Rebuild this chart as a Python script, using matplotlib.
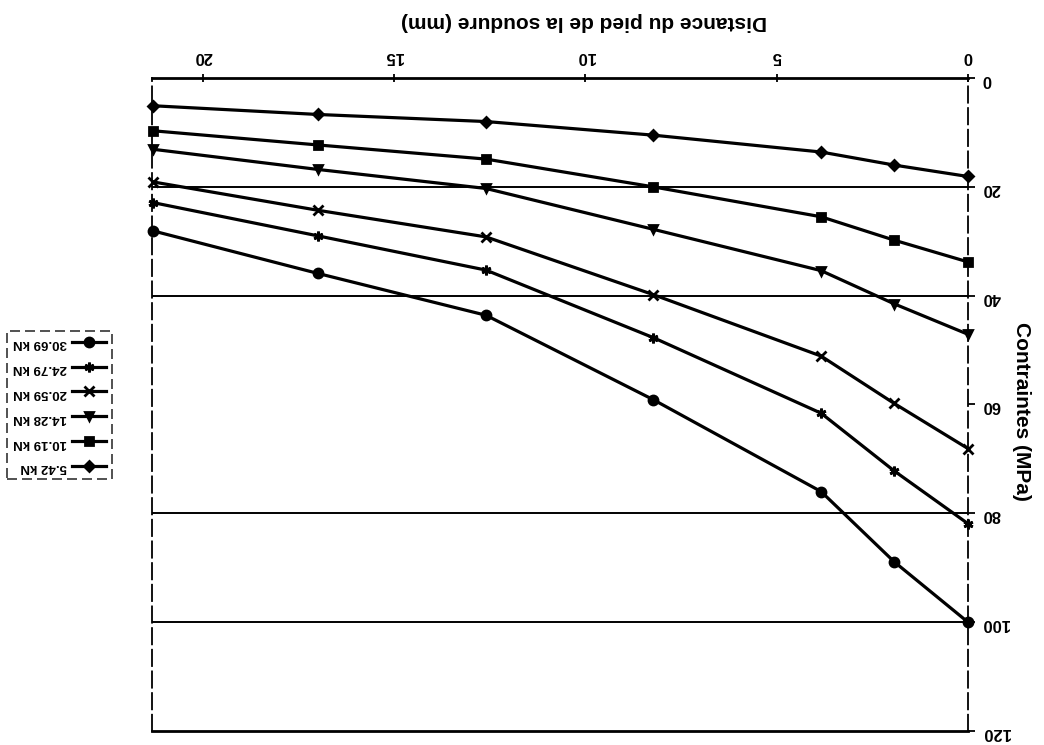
import matplotlib
matplotlib.use("Agg")
import matplotlib.pyplot as plt

# Distance from the weld toe (mm) at which the stresses were measured
distance_mm = [0, 1.93, 3.84, 8.23, 12.6, 17.0, 21.3]

# Applied loads
load_labels = ["5.42 kN", "10.19 kN", "14.28 kN", "20.59 kN", "24.79 kN", "30.69 kN"]

# Stress (MPa) for each load, same order as distance_mm
stress_5_42 = [18.1, 16.0, 13.6, 10.5, 8.0, 6.7, 5.1]
stress_10_19 = [33.8, 29.8, 25.5, 20.0, 14.9, 12.3, 9.7]
stress_14_28 = [47.1, 41.5, 35.4, 27.8, 20.3, 16.8, 13.1]
stress_20_59 = [68.1, 59.8, 51.1, 39.8, 29.2, 24.3, 19.1]
stress_24_79 = [81.9, 72.2, 61.6, 47.7, 35.3, 29.0, 22.9]
stress_30_69 = [100.0, 88.9, 76.0, 59.1, 43.6, 35.9, 28.1]

x_ticks = [0, 5, 10, 15, 20]
y_ticks = [0, 20, 40, 60, 80, 100, 120]
grid_levels = [20, 40, 80, 100]

series = [stress_5_42, stress_10_19, stress_14_28,
          stress_20_59, stress_24_79, stress_30_69]
markers = ["D", "s", "v", "x", (6, 2, 0), "o"]
marker_sizes = [5.5, 5.5, 6, 6.5, 7, 6.5]

plt.rcParams["font.family"] = ["Liberation Sans", "DejaVu Sans"]
plt.rcParams["font.weight"] = "bold"

fig = plt.figure(figsize=(10.44, 7.45), dpi=100)
ax = fig.add_axes([0.1456, 0.0188, 0.7816, 0.8765])

# The whole sheet is laid out turned half a turn: both axes run backwards
ax.set_xlim(21.33, 0)
ax.set_ylim(120, 0)

for level in grid_levels:
    ax.axhline(level, color="black", lw=1.4, zorder=1)

handles = []
for values, label, mk, ms in zip(series, load_labels, markers, marker_sizes):
    (h,) = ax.plot(distance_mm, values, color="black", lw=2.3, marker=mk,
                   markersize=ms, markeredgewidth=2.0, markerfacecolor="black",
                   markeredgecolor="black", label=label, zorder=3, clip_on=False)
    handles.append(h)

ax.set_xticks(x_ticks)
ax.set_yticks(y_ticks)
ax.xaxis.tick_top()
ax.yaxis.tick_right()
ax.tick_params(axis="x", direction="inout", length=6, width=1.3, pad=7,
               labelsize=12, labelrotation=180)
ax.tick_params(axis="y", direction="out", length=5, width=1.3, pad=5,
               labelsize=12, labelrotation=180)

for side in ("top", "bottom"):
    ax.spines[side].set_linewidth(2.0)
for side in ("left", "right"):
    ax.spines[side].set_linewidth(1.3)
    ax.spines[side].set_linestyle((0, (9, 3)))

ax.xaxis.set_label_position("top")
ax.set_xlabel("Distance du pied de la soudure (mm)", fontsize=15,
              fontweight="bold", rotation=180, ha="center", va="center")
ax.xaxis.set_label_coords(0.53, 1.086)

ax.yaxis.set_label_position("right")
ax.set_ylabel("Contraintes (MPa)", fontsize=15, fontweight="bold",
              rotation=270, ha="center", va="center")
ax.yaxis.set_label_coords(1.066, 0.489)

leg = fig.legend(handles[::-1], load_labels[::-1], loc="center",
                 bbox_to_anchor=(0.057, 0.456), markerfirst=False,
                 fontsize=9.5, frameon=True, fancybox=False,
                 handlelength=2.6, labelspacing=0.95, borderpad=0.45,
                 handletextpad=0.4, borderaxespad=0)
frame = leg.get_frame()
frame.set_edgecolor("black")
frame.set_linewidth(1.2)
frame.set_linestyle((0, (6, 3)))
for t in leg.get_texts():
    t.set_rotation(180)
    t.set_fontweight("bold")

fig.savefig("out.png", dpi=100)
